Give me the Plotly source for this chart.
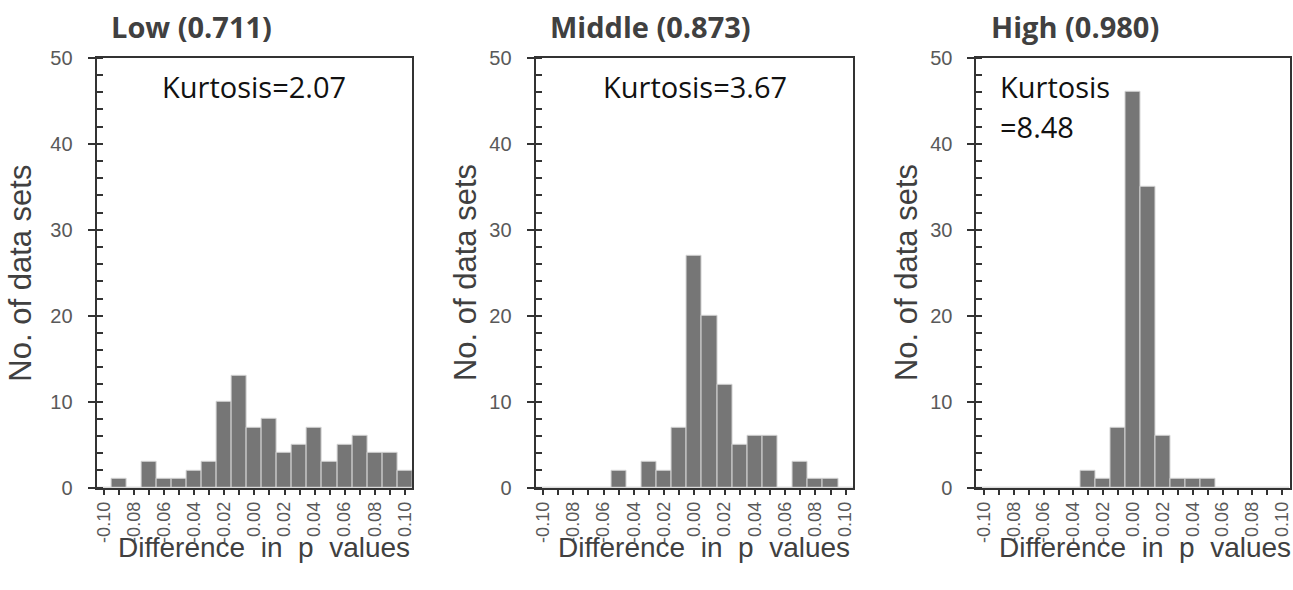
import plotly.graph_objects as go

bins = [round(-0.10 + 0.01 * i, 2) for i in range(21)]
low_counts = [0, 1, 0, 3, 1, 1, 2, 3, 10, 13, 7, 8, 4, 5, 7, 3, 5, 6, 4, 4, 2]
middle_counts = [0, 0, 0, 0, 0, 2, 0, 3, 2, 7, 27, 20, 12, 5, 6, 6, 0, 3, 1, 1, 0]
high_counts = [0, 0, 0, 0, 0, 0, 0, 2, 1, 7, 46, 35, 6, 1, 1, 1, 0, 0, 0, 0, 0]
panel_titles = ["Low (0.711)", "Middle (0.873)", "High (0.980)"]
kurtosis_texts = [["Kurtosis=2.07"], ["Kurtosis=3.67"], ["Kurtosis", "=8.48"]]
x_tickvals = [-0.10, -0.08, -0.06, -0.04, -0.02, 0.00, 0.02, 0.04, 0.06, 0.08, 0.10]
x_ticktext = ["-0.10", "-0.08", "-0.06", "-0.04", "-0.02", "0.00", "0.02", "0.04", "0.06", "0.08", "0.10"]
y_tickvals = [0, 10, 20, 30, 40, 50]

W, H = 1293, 590
# empirical calibration (picture pixels -> paper fractions)
X_OFF, X_SCALE = 2.6, 0.994
Y_OFF, Y_SCALE = 11.2, 0.963


def fx(xr):
    return (xr - X_OFF) / (X_SCALE * W)


def fy(yr):
    return 1 - (yr - Y_OFF) / (Y_SCALE * H)


panels_px = [(96, 411), (534, 851), (974, 1291)]
ytitle_offsets = [75.5, 70, 70]
top_px, bottom_px = 58, 488

fig = go.Figure()
series = [low_counts, middle_counts, high_counts]
for i, counts in enumerate(series):
    n = "" if i == 0 else str(i + 1)
    fig.add_trace(go.Bar(
        x=bins, y=counts, width=0.01,
        marker=dict(color="#767676", line=dict(color="#d4d4d4", width=1)),
        xaxis="x" + n, yaxis="y" + n, showlegend=False,
    ))
    x0, x1 = panels_px[i]
    axis_common = dict(showline=True, linecolor="#333333", linewidth=2, mirror=True,
                       showgrid=False, zeroline=False)
    fig.update_layout(**{
        "xaxis" + n: dict(domain=[fx(x0), min(fx(x1), 0.999)], anchor="y" + n, range=[-0.105, 0.105],
                          tickvals=x_tickvals, ticktext=x_ticktext, tickangle=-90,
                          ticks="outside", ticklen=5, tickcolor="#333333", tickwidth=1.5,
                          minor=dict(dtick=0.01, tick0=0, ticks="outside", ticklen=5,
                                     tickcolor="#333333", tickwidth=1.5),
                          tickfont=dict(family="Liberation Sans, Arial", size=18, color="#595959"),
                          **axis_common),
        "yaxis" + n: dict(domain=[fy(bottom_px), fy(top_px)], anchor="x" + n,
                          range=[0, 50], tickvals=y_tickvals,
                          ticks="outside", ticklen=7, tickcolor="#333333", tickwidth=1.5,
                          ticklabelstandoff=11,
                          minor=dict(dtick=2, ticks="inside", ticklen=6,
                                     tickcolor="#333333", tickwidth=1.5),
                          tickfont=dict(family="Liberation Sans, Arial", size=20, color="#595959"),
                          **axis_common),
    })
    fig.add_annotation(text="<b>" + panel_titles[i] + "</b>", xref="paper", yref="paper",
                       x=fx(x0 + 12), y=fy(27), xanchor="left", yanchor="middle",
                       showarrow=False,
                       font=dict(family="Open Sans", size=29, color="#404040"))
    lines = kurtosis_texts[i]
    if len(lines) == 1:
        fig.add_annotation(text=lines[0], xref="paper", yref="paper",
                           x=fx((x0 + x1) / 2 + (0 if i == 0 else 1)), y=fy(87),
                           xanchor="center", yanchor="middle", showarrow=False,
                           font=dict(family="Open Sans", size=29, color="#111111"))
    else:
        for k, line in enumerate(lines):
            fig.add_annotation(text=line, xref="paper", yref="paper",
                               x=fx(x0 + 21), y=fy(87 + 40 * k), xanchor="left", yanchor="middle",
                               showarrow=False,
                               font=dict(family="Open Sans", size=29, color="#111111"))
    fig.add_annotation(text="No. of data sets", xref="paper", yref="paper",
                       x=fx(x0 - ytitle_offsets[i]), y=fy(273), xanchor="center", yanchor="middle",
                       textangle=-90, showarrow=False,
                       font=dict(family="Liberation Sans, Arial", size=31, color="#404040"))
    fig.add_annotation(text="Difference\u00a0 in\u00a0 p\u00a0 values", xref="paper", yref="paper",
                       x=fx((x0 + x1) / 2 + 10), y=fy(548), xanchor="center", yanchor="middle",
                       showarrow=False,
                       font=dict(family="Liberation Sans, Arial", size=28, color="#404040"))

fig.update_layout(width=W, height=H, margin=dict(l=0, r=0, t=0, b=0),
                  plot_bgcolor="white", paper_bgcolor="white", bargap=0)
fig.write_html("out.html", config={"displayModeBar": False},
               post_script="document.body.style.margin='0';document.body.style.overflow='hidden';")
